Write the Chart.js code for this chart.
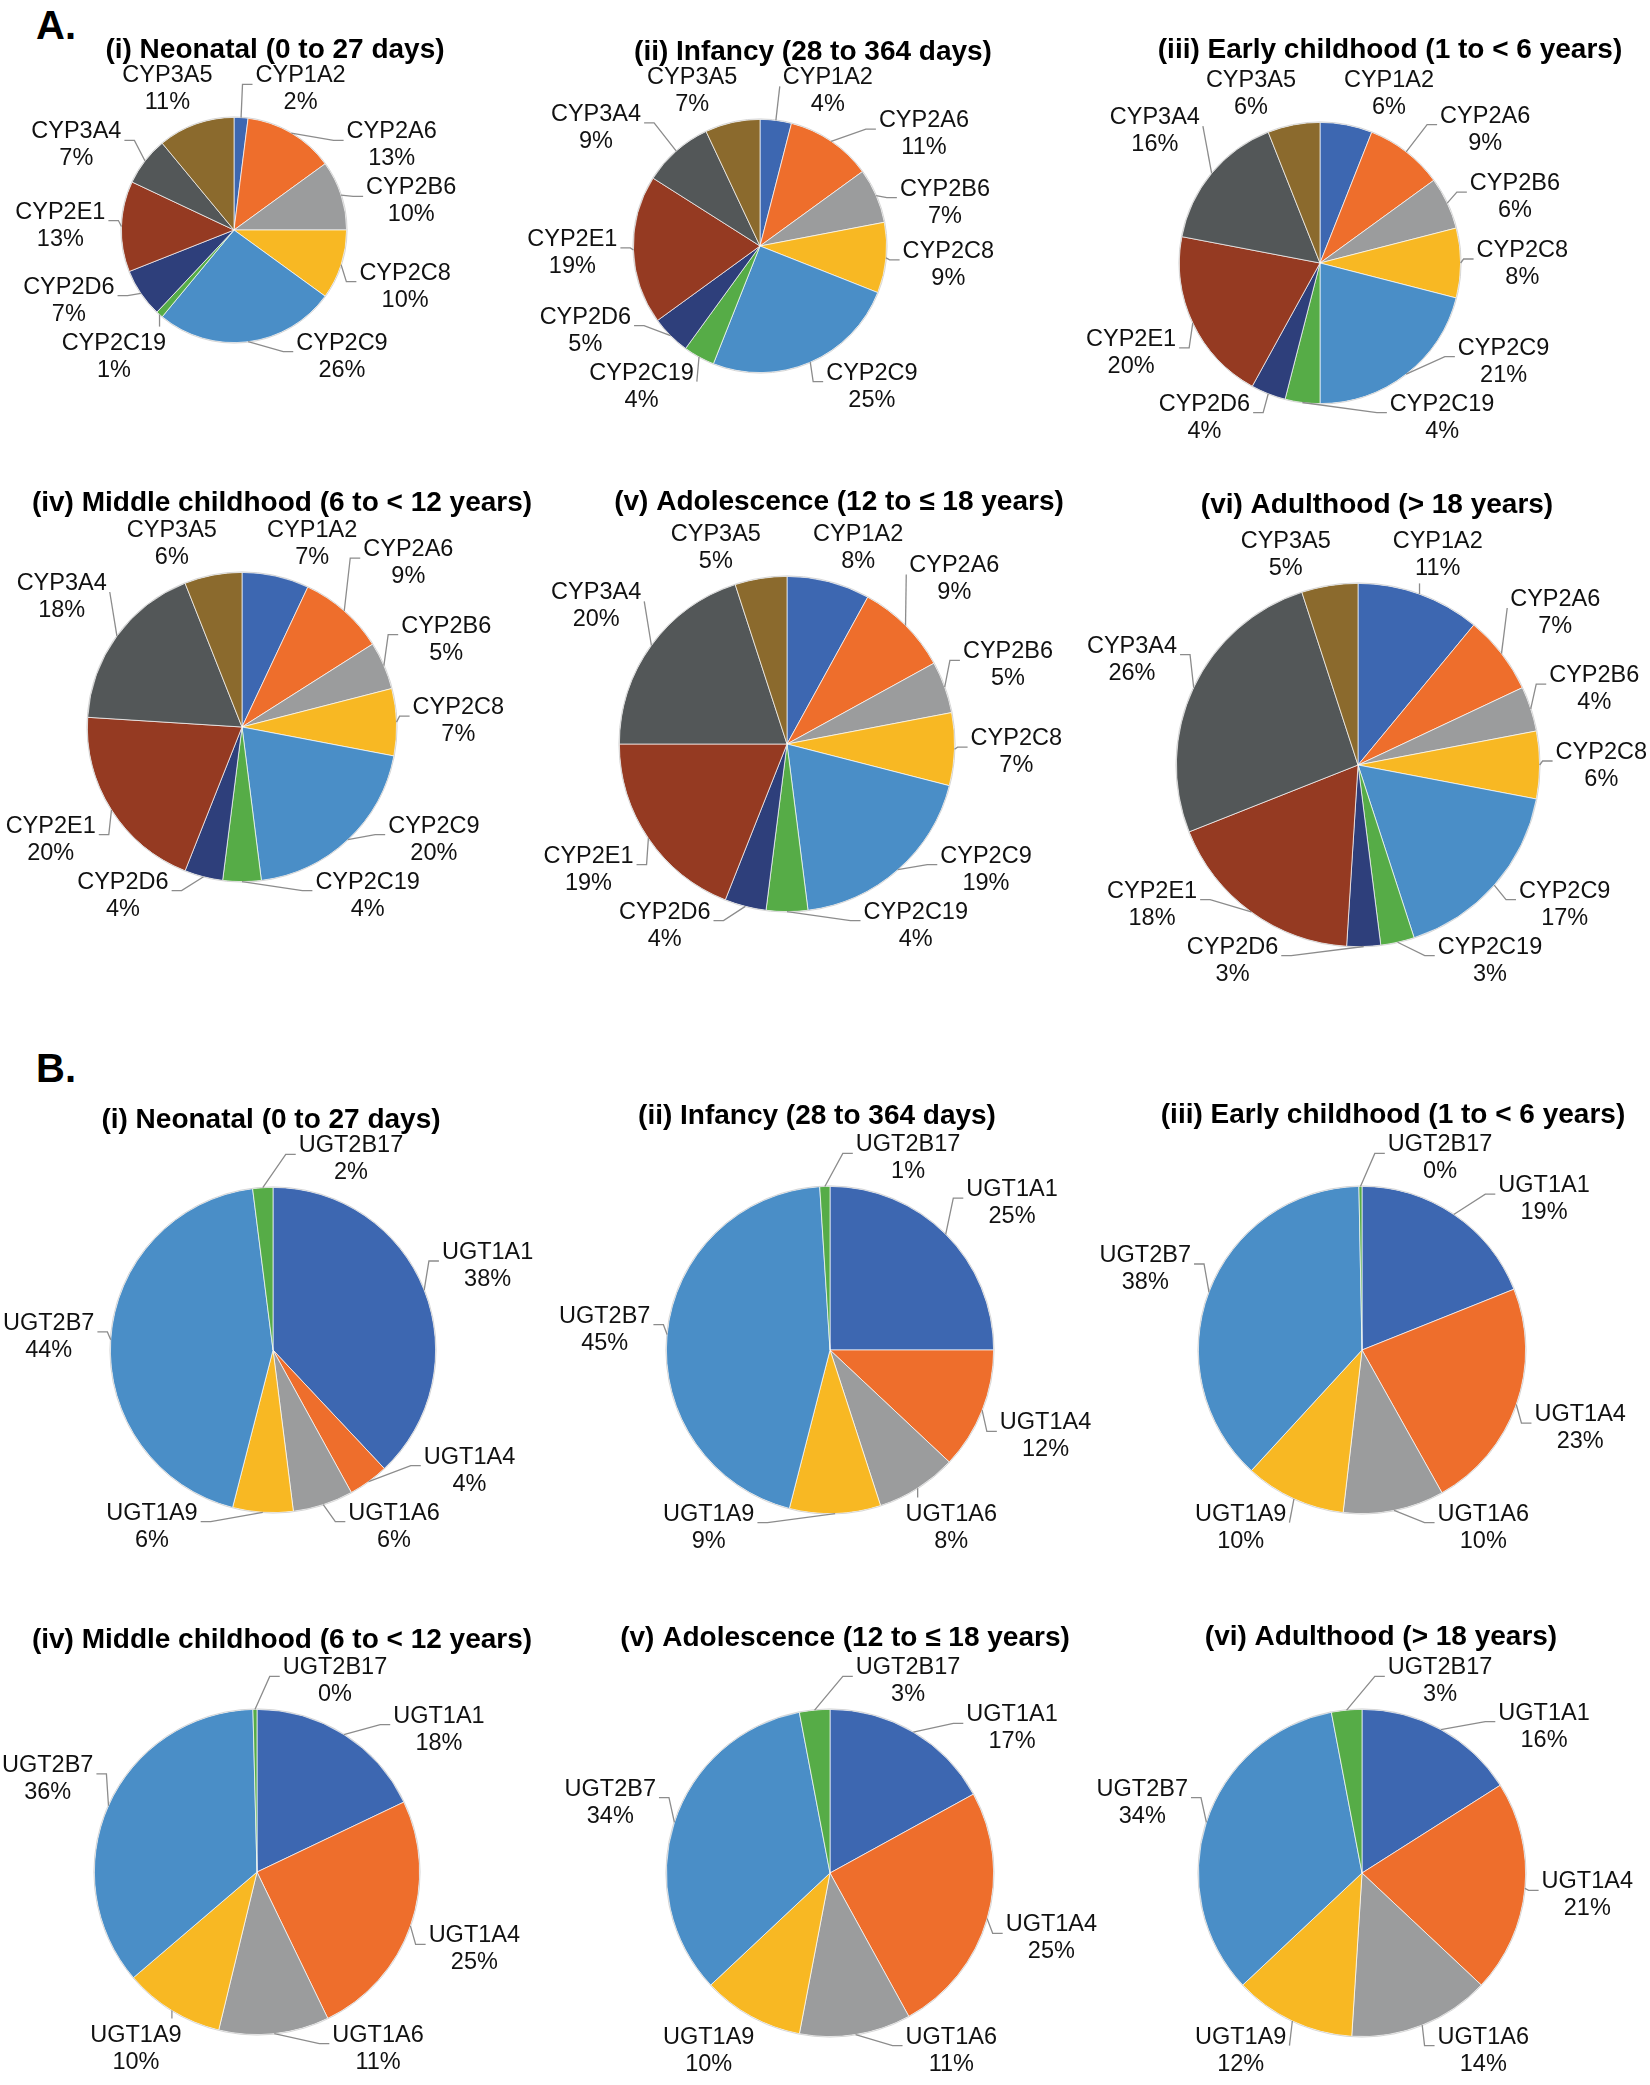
<!DOCTYPE html>
<html>
<head>
<meta charset="utf-8">
<script src="https://cdn.jsdelivr.net/npm/chart.js@4.4.1/dist/chart.umd.min.js"></script>
<style>
    html, body { margin: 0; padding: 0; background: #fff; }
    #page { position: relative; width: 1650px; height: 2085px; overflow: hidden; background: #fff;
            font-family: "Liberation Sans", Arial, sans-serif; }
    .tag { position: absolute; left: 36px; font-weight: bold; font-size: 40px; line-height: 1; color: #000; }
    canvas { position: absolute; }
</style>
</head>
<body>
<div id="page">
    <div class="tag" style="top:5px">A.</div>
    <div class="tag" style="top:1048px">B.</div>
</div>
<script>
// categories
const cypEnzymes = ['CYP1A2', 'CYP2A6', 'CYP2B6', 'CYP2C8', 'CYP2C9', 'CYP2C19', 'CYP2D6', 'CYP2E1', 'CYP3A4', 'CYP3A5'];
const ugtEnzymes = ['UGT1A1', 'UGT1A4', 'UGT1A6', 'UGT1A9', 'UGT2B7', 'UGT2B17'];

const ageTitles = [
    '(i) Neonatal (0 to 27 days)',
    '(ii) Infancy (28 to 364 days)',
    '(iii) Early childhood (1 to < 6 years)',
    '(iv) Middle childhood (6 to < 12 years)',
    '(v) Adolescence (12 to \u2264 18 years)',
    '(vi) Adulthood (> 18 years)'
];

// A. CYP abundance (%)
const cypNeonatal  = [2, 13, 10, 10, 26, 1, 7, 13, 7, 11];
const cypInfancy   = [4, 11, 7, 9, 25, 4, 5, 19, 9, 7];
const cypEarly     = [6, 9, 6, 8, 21, 4, 4, 20, 16, 6];
const cypMiddle    = [7, 9, 5, 7, 20, 4, 4, 20, 18, 6];
const cypAdolesc   = [8, 9, 5, 7, 19, 4, 4, 19, 20, 5];
const cypAdult     = [11, 7, 4, 6, 17, 3, 3, 18, 26, 5];

// B. UGT abundance (%), the "0%" slices are thin but visible
const ugtNeonatal  = [38, 4, 6, 6, 44, 2];
const ugtInfancy   = [25, 12, 8, 9, 45, 1];
const ugtEarly     = [19, 23, 10, 10, 38, 0.3];
const ugtMiddle    = [18, 25, 11, 10, 36, 0.4];
const ugtAdolesc   = [17, 25, 11, 10, 34, 3];
const ugtAdult     = [16, 21, 14, 12, 34, 3];

const cypColors = ['#3d67b1', '#ee6e2c', '#9b9c9d', '#f8b823', '#4a8ec7', '#56ac47', '#2e3f7b', '#953a22', '#535758', '#8b6a2d'];
const ugtColors = ['#3d67b1', '#ee6e2c', '#9b9c9d', '#f8b823', '#4a8ec7', '#56ac47'];

// panel placement on the page: pie centre, radius, title centre
const layoutA = [
    { cx: 234,  cy: 230, r: 113, tx: 275,  ty: 50 },
    { cx: 760,  cy: 246, r: 127, tx: 813,  ty: 52 },
    { cx: 1320, cy: 263, r: 141, tx: 1390, ty: 50 },
    { cx: 242,  cy: 727, r: 155, tx: 282,  ty: 503 },
    { cx: 787,  cy: 744, r: 168, tx: 839,  ty: 502 },
    { cx: 1358, cy: 765, r: 182, tx: 1377, ty: 505 }
];
const layoutB = [
    { cx: 273,  cy: 1350, r: 163, tx: 271,  ty: 1120 },
    { cx: 830,  cy: 1350, r: 164, tx: 817,  ty: 1116 },
    { cx: 1362, cy: 1350, r: 164, tx: 1393, ty: 1115 },
    { cx: 257,  cy: 1872, r: 163, tx: 282,  ty: 1640 },
    { cx: 830,  cy: 1873, r: 164, tx: 845,  ty: 1638 },
    { cx: 1362, cy: 1873, r: 164, tx: 1381, ty: 1637 }
];

const PAGE_W = 1650;
const FONT = '"Liberation Sans", Arial, sans-serif';

function boxDist(cx, cy, b) {
    const dx = Math.max(Math.abs(cx - b.x) - b.w / 2, 0);
    const dy = Math.max(Math.abs(cy - b.y) - b.h / 2, 0);
    return Math.sqrt(dx * dx + dy * dy);
}

// outside labels with leader lines, roughly like Excel's "best fit"
const calloutPlugin = {
    id: 'callouts',
    afterDatasetsDraw(chart, args, opts) {
        const ctx = chart.ctx;
        const meta = chart.getDatasetMeta(0);
        const values = chart.data.datasets[0].data;
        const labels = chart.data.labels;
        const lh = opts.lineHeight;
        const gap = opts.gap;
        ctx.save();

        // title
        ctx.font = 'bold 28px ' + FONT;
        ctx.fillStyle = '#000';
        ctx.textAlign = 'center';
        ctx.textBaseline = 'middle';
        ctx.fillText(opts.title, opts.titleX, opts.titleY);
        const tw = ctx.measureText(opts.title).width;
        const titleBox = { x: opts.titleX, y: opts.titleY, w: tw, h: 20 };

        ctx.font = '23.5px ' + FONT;
        let cx = 0, cy = 0, r = 0;
        const boxes = meta.data.map((arc, i) => {
            const p = arc.getProps(['x', 'y', 'startAngle', 'endAngle', 'outerRadius'], true);
            cx = p.x; cy = p.y; r = p.outerRadius;
            const mid = (p.startAngle + p.endAngle) / 2;
            const lines = [labels[i], Math.round(values[i]) + '%'];
            const w = Math.max(...lines.map(s => ctx.measureText(s).width));
            return { lines, mid, w, h: lh * 2, x: 0, y: 0, pin: 0, side: 1 };
        });

        const h = lh * 2;
        const ymin = cy - r - h / 2 - 2;   // top row sits just above the pie
        const ymax = cy + r + h / 2 - 14;  // bottom row tucks beside the pie's foot
        const POLE = Math.PI / 9;          // labels this close to top/bottom may switch side

        function clearCircle(b) {
            const need = r + (b.pin ? 4 : gap - 2);
            if (boxDist(cx, cy, b) >= need) return false;
            if (b.pin) {
                const x0 = b.x;
                let lo = 0, hi = r + b.w + 60;
                for (let k = 0; k < 30; k++) {
                    const s = (lo + hi) / 2;
                    b.x = x0 + b.side * s;
                    if (boxDist(cx, cy, b) < need) lo = s; else hi = s;
                }
                b.x = x0 + b.side * hi;
            } else {
                const vx = b.x - cx, vy = b.y - cy, vl = Math.hypot(vx, vy) || 1;
                const d = boxDist(cx, cy, b);
                b.x += vx / vl * (need - d + 0.5);
                b.y += vy / vl * (need - d + 0.5);
            }
            return true;
        }

        // first guess: box tangent to a ring just outside the pie, along the slice's mid angle
        boxes.forEach(b => {
            const dx = Math.cos(b.mid), dy = Math.sin(b.mid);
            let lo = r, hi = r + 400;
            for (let k = 0; k < 40; k++) {
                const t = (lo + hi) / 2;
                b.x = cx + dx * t; b.y = cy + dy * t;
                if (boxDist(cx, cy, b) < r + gap) lo = t; else hi = t;
            }
            b.x = cx + dx * hi; b.y = cy + dy * hi;
            b.side = Math.cos(b.mid) > -1e-6 ? 1 : -1;
            if (b.y < ymin) { b.y = ymin; b.pin = -1; }
            else if (b.y > ymax) { b.y = ymax; b.pin = 1; }
        });

        function setSide(b, side) {
            b.side = side;
            b.x = cx + side * Math.max(Math.abs(b.x - cx), b.w / 2);
        }

        // bottom: labels close to the foot are shared so both sides of the lower half stay balanced
        const lower = boxes.filter(b => Math.sin(b.mid) > 1e-9);
        const flex = lower.filter(b => Math.abs(b.mid - Math.PI / 2) <= POLE).sort((p, q) => p.mid - q.mid);
        const fixed = lower.filter(b => !flex.includes(b));
        const nR = fixed.filter(b => Math.cos(b.mid) > 0).length;
        const nL = fixed.length - nR;
        let bestK = 0, bestD = Infinity;
        for (let k = 0; k <= flex.length; k++) {
            const d = Math.abs((nR + k) - (nL + flex.length - k));
            if (d <= bestD) { bestD = d; bestK = k; }
        }
        flex.forEach((b, idx) => setSide(b, idx < bestK ? 1 : -1));

        // top: labels right at the top lean to the right
        boxes.forEach(b => {
            let a = b.mid > Math.PI ? b.mid - 2 * Math.PI : b.mid;
            if (Math.sin(b.mid) < 0 && Math.abs(a + Math.PI / 2) <= POLE) {
                setSide(b, a > -Math.PI / 2 - 0.14 ? 1 : -1);
            }
        });
        boxes.forEach(clearCircle);

        // push overlapping labels apart
        for (let it = 0; it < 400; it++) {
            let moved = false;
            for (let i = 0; i < boxes.length; i++) {
                for (let j = i + 1; j < boxes.length; j++) {
                    const a = boxes[i], b = boxes[j];
                    const ox = Math.min(a.x + a.w / 2, b.x + b.w / 2) - Math.max(a.x - a.w / 2, b.x - b.w / 2) + 6;
                    const oy = Math.min(a.y + a.h / 2, b.y + b.h / 2) - Math.max(a.y - a.h / 2, b.y - b.h / 2) + 2;
                    if (ox > 0 && oy > 0) {
                        moved = true;
                        let up;
                        if (a.y < b.y - 0.5) up = a;
                        else if (b.y < a.y - 0.5) up = b;
                        else up = Math.sin(a.mid) <= Math.sin(b.mid) ? a : b;
                        const down = up === a ? b : a;
                        const upCan = up.pin !== -1, downCan = down.pin !== 1;
                        if (oy <= ox * 1.6 && (upCan || downCan)) {
                            if (upCan && downCan) { up.y -= oy / 2; down.y += oy / 2; }
                            else if (upCan) up.y -= oy;
                            else down.y += oy;
                        } else {
                            const lf = a.x <= b.x ? a : b, rt = lf === a ? b : a;
                            lf.x -= ox / 2; rt.x += ox / 2;
                        }
                    }
                }
            }
            boxes.forEach(b => {
                if (b.y <= ymin) { b.y = ymin; if (b.pin !== -1) { b.pin = -1; b.side = b.x >= cx ? 1 : -1; } }
                else if (b.y >= ymax) { b.y = ymax; if (b.pin !== 1) { b.pin = 1; b.side = b.x >= cx ? 1 : -1; } }
                else b.pin = 0;
                const oy = Math.min(b.y + b.h / 2, titleBox.y + titleBox.h / 2) - Math.max(b.y - b.h / 2, titleBox.y - titleBox.h / 2);
                const ox = Math.min(b.x + b.w / 2, titleBox.x + titleBox.w / 2) - Math.max(b.x - b.w / 2, titleBox.x - titleBox.w / 2);
                if (ox > 0 && oy > 0) { b.y += oy; moved = true; }
                if (clearCircle(b)) moved = true;
            });
            if (!moved) break;
        }

        // keep every label on the page
        boxes.forEach(b => {
            if (b.x - b.w / 2 < opts.minX) b.x = opts.minX + b.w / 2;
            if (b.x + b.w / 2 > opts.maxX) b.x = opts.maxX - b.w / 2;
        });

        // faint outline of the pie
        ctx.beginPath();
        ctx.arc(cx, cy, r + 0.5, 0, Math.PI * 2);
        ctx.strokeStyle = '#d6d6d6';
        ctx.lineWidth = 1;
        ctx.stroke();

        // leader lines
        ctx.strokeStyle = '#8c8c8c';
        ctx.lineWidth = 1.3;
        boxes.forEach(b => {
            const px = cx + Math.cos(b.mid) * r, py = cy + Math.sin(b.mid) * r;
            const L = b.x - b.w / 2, R = b.x + b.w / 2, T = b.y - b.h / 2, B = b.y + b.h / 2;
            let q, e = null;
            if (px < L - 2) { q = { x: L - 3, y: b.y - 4 }; if (q.x - 10 > px) e = { x: q.x - 10, y: q.y }; }
            else if (px > R + 2) { q = { x: R + 3, y: b.y - 4 }; if (q.x + 10 < px) e = { x: q.x + 10, y: q.y }; }
            else if (py < T) { q = { x: px, y: T - 2 }; }
            else { q = { x: px, y: B + 2 }; }
            if (Math.hypot(q.x - px, q.y - py) < 8) return;
            ctx.beginPath();
            ctx.moveTo(px, py);
            if (e) ctx.lineTo(e.x, e.y);
            ctx.lineTo(q.x, q.y);
            ctx.stroke();
        });

        // label text
        ctx.fillStyle = '#111';
        ctx.textAlign = 'center';
        ctx.textBaseline = 'middle';
        boxes.forEach(b => {
            ctx.fillText(b.lines[0], b.x, b.y - lh / 2 + 1);
            ctx.fillText(b.lines[1], b.x, b.y + lh / 2 + 1);
        });
        ctx.restore();
    }
};

const page = document.getElementById('page');

function makePie(panel, title, labels, values, colors) {
    const W = 720;
    const left = panel.cx - W / 2;
    const top = panel.ty - 30;
    const H = Math.round(panel.cy + panel.r + 130 - top);
    const canvas = document.createElement('canvas');
    canvas.width = W;
    canvas.height = H;
    canvas.style.left = left + 'px';
    canvas.style.top = top + 'px';
    canvas.style.width = W + 'px';
    canvas.style.height = H + 'px';
    page.appendChild(canvas);
    const ox = panel.cx - left, oy = panel.cy - top;
    new Chart(canvas, {
        type: 'pie',
        data: {
            labels: labels,
            datasets: [{
                data: values,
                backgroundColor: colors,
                borderColor: 'rgba(255,255,255,0.85)',
                borderWidth: 0.8
            }]
        },
        options: {
            responsive: false,
            animation: false,
            devicePixelRatio: 1,
            events: [],
            layout: {
                padding: { left: ox - panel.r, right: W - ox - panel.r, top: oy - panel.r, bottom: H - oy - panel.r }
            },
            plugins: {
                legend: { display: false },
                tooltip: { enabled: false },
                title: { display: false },
                callouts: {
                    title: title,
                    titleX: panel.tx - left,
                    titleY: panel.ty - top,
                    lineHeight: 27,
                    gap: 16,
                    minX: 2 - left,
                    maxX: PAGE_W - 2 - left
                }
            }
        },
        plugins: [calloutPlugin]
    });
}

const cypSeries = [cypNeonatal, cypInfancy, cypEarly, cypMiddle, cypAdolesc, cypAdult];
const ugtSeries = [ugtNeonatal, ugtInfancy, ugtEarly, ugtMiddle, ugtAdolesc, ugtAdult];

cypSeries.forEach((vals, i) => makePie(layoutA[i], ageTitles[i], cypEnzymes, vals, cypColors));
ugtSeries.forEach((vals, i) => makePie(layoutB[i], ageTitles[i], ugtEnzymes, vals, ugtColors));
</script>
</body>
</html>
